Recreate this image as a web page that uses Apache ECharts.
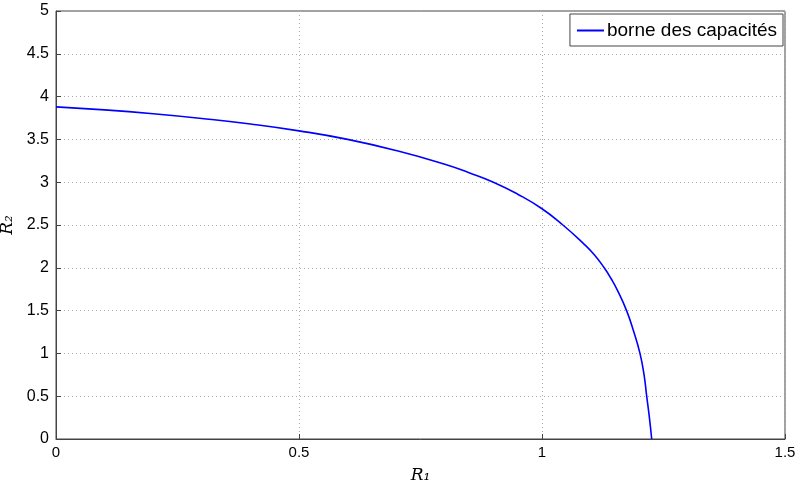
<!DOCTYPE html>
<html>
<head>
<meta charset="utf-8">
<script src="https://cdn.jsdelivr.net/npm/echarts@6/dist/echarts.min.js"></script>
<style>
  html, body { margin: 0; padding: 0; background: #fff; }
  #chart { width: 796px; height: 480px; }
</style>
</head>
<body>
<div id="chart"></div>
<script>
// valeurs
const r1Values = [0, 0.1, 0.2, 0.3, 0.4, 0.5, 0.6, 0.7, 0.8, 0.85, 0.9, 0.95, 1.0, 1.043, 1.085, 1.108, 1.128, 1.142, 1.154, 1.174, 1.189, 1.2016, 1.21, 1.2154, 1.221, 1.2257];
const r2Values = [3.88, 3.845, 3.8, 3.745, 3.68, 3.6, 3.5, 3.37, 3.21, 3.11, 3.0, 2.86, 2.69, 2.5, 2.285, 2.15, 2.0, 1.875, 1.75, 1.5, 1.25, 1.0, 0.75, 0.5, 0.25, 0];
const seriesName = 'borne des capacités';

const chart = echarts.init(document.getElementById('chart'));

const tickFont = { color: '#000', fontSize: 15, fontFamily: 'Liberation Sans' };
const gridLine = { show: true, lineStyle: { color: '#aaa', type: [1, 3], width: 1 } };

chart.setOption({
    animation: false,
    grid: {
        left: 56, right: 11, top: 11, bottom: 41,
        outerBoundsMode: 'none',
        containLabel: false,
        show: true, borderColor: '#444', borderWidth: 1
    },
    legend: {
        data: [seriesName],
        right: 13,
        top: 14,
        orient: 'vertical',
        backgroundColor: '#fff',
        borderColor: '#444',
        borderWidth: 1,
        borderRadius: 0,
        padding: [7, 6, 6, 7],
        icon: 'rect',
        itemWidth: 27,
        itemHeight: 2,
        itemGap: 4,
        textStyle: { color: '#000', fontSize: 19, fontFamily: 'Liberation Sans', padding: [0, 0, 0, -2] }
    },
    xAxis: {
        type: 'value',
        min: 0,
        max: 1.5,
        interval: 0.5,
        name: 'R₁',
        nameLocation: 'middle',
        nameGap: 28,
        nameTextStyle: { fontFamily: 'DejaVu Serif', fontStyle: 'italic', fontSize: 17, color: '#000' },
        axisLine: { show: true, lineStyle: { color: '#444' } },
        axisTick: { show: true, inside: true, length: 5, lineStyle: { color: '#444' } },
        axisLabel: Object.assign({ margin: 6 }, tickFont),
        splitLine: gridLine
    },
    yAxis: {
        type: 'value',
        min: 0,
        max: 5,
        interval: 0.5,
        name: 'R₂',
        nameLocation: 'middle',
        nameGap: 31,
        nameRotate: 90,
        nameTextStyle: { fontFamily: 'DejaVu Serif', fontStyle: 'italic', fontSize: 17, color: '#000' },
        axisLine: { show: true, lineStyle: { color: '#444' } },
        axisTick: { show: true, inside: true, length: 5, lineStyle: { color: '#444' } },
        axisLabel: Object.assign({ margin: 7 }, tickFont, { fontSize: 16 }),
        splitLine: gridLine
    },
    series: [
        {
            name: seriesName,
            type: 'line',
            data: r1Values.map((x, i) => [x, r2Values[i]]),
            smooth: 0.5,
            smoothConstraint: false,
            showSymbol: false,
            lineStyle: { color: '#0000ff', width: 1.6 },
            itemStyle: { color: '#0000ff' }
        }
    ]
});
</script>
</body>
</html>
